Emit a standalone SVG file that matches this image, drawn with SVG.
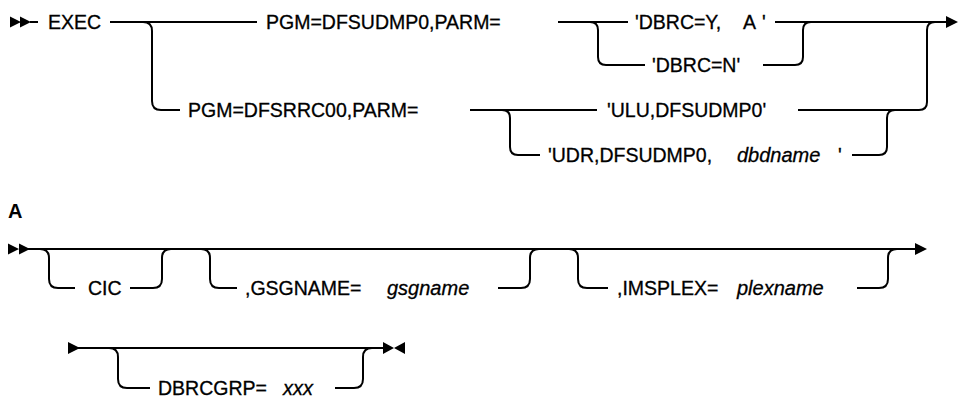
<svg xmlns="http://www.w3.org/2000/svg" width="960" height="399" viewBox="0 0 960 399">
<style>
.t{font-family:"Liberation Sans",Arial,sans-serif;font-size:19.5px;fill:#000;stroke:#000;stroke-width:0.3}
.i{font-style:italic;font-size:20px}
.b{font-weight:bold;font-size:20px;stroke-width:0}
.l{fill:none;stroke:#000;stroke-width:2}
.h{fill:#000}
</style>
<rect width="960" height="399" fill="#fff"/>
<g id="connectors">
<path class="l" d="M30,22 H38 M110,22 H257 M558,22 H628 M775,22 H948"/>
<path class="l" d="M143,22 Q152,22 152,31 V101 Q152,110 161,110 H180"/>
<path class="l" d="M470,110 H597"/>
<path class="l" d="M590,22 Q598,22 598,30 V57 Q598,65 606,65 H645"/>
<path class="l" d="M763,65 H795 Q803,65 803,57 V30 Q803,22 811,22"/>
<path class="l" d="M502,110 Q510,110 510,118 V147 Q510,155 518,155 H540"/>
<path class="l" d="M798,110 H919 Q927,110 927,102 V30 Q927,22 935,22"/>
<path class="l" d="M852,155 H879 Q887,155 887,147 V118 Q887,110 895,110"/>
<path class="l" d="M28,249 H917"/>
<path class="l" d="M40,249 Q49,249 49,258 V279 Q49,288 58,288 H75 M130,288 H153 Q162,288 162,279 V258 Q162,249 171,249"/>
<path class="l" d="M201,249 Q210,249 210,258 V279 Q210,288 219,288 H237 M498,288 H521 Q530,288 530,279 V258 Q530,249 539,249"/>
<path class="l" d="M569,249 Q578,249 578,258 V279 Q578,288 587,288 H608 M857,288 H879 Q888,288 888,279 V258 Q888,249 897,249"/>
<path class="l" d="M78,348 H385"/>
<path class="l" d="M109,348 Q118,348 118,357 V379 Q118,388 127,388 H150 M335,388 H354 Q363,388 363,379 V357 Q363,348 372,348"/>
<path class="h" d="M10,16.5 L21,22 L10,27.5 Z M20,16.5 L31,22 L20,27.5 Z"/>
<path class="h" d="M946,16 L958,22 L946,28 Z"/>
<path class="h" d="M8,243.5 L19,249 L8,254.5 Z M19,243.5 L30,249 L19,254.5 Z"/>
<path class="h" d="M915,243 L927,249 L915,255 Z"/>
<path class="h" d="M68,342 L80,348 L68,354 Z"/>
<path class="h" d="M383,342 L394,348 L383,354 Z M405,342 L394,348 L405,354 Z"/>
</g>
<g id="n-exec"><text class="t" x="48" y="29">EXEC</text></g>
<g id="n-pgm1"><text class="t" x="266" y="29">PGM=DFSUDMP0,PARM=</text></g>
<g id="n-pgm2"><text class="t" x="188" y="117">PGM=DFSRRC00,PARM=</text></g>
<g id="n-dbrcy"><text class="t" x="635" y="29">'DBRC=Y,<tspan x="743">A</tspan><tspan x="762">'</tspan></text></g>
<g id="n-dbrcn"><text class="t" x="652" y="72">'DBRC=N'</text></g>
<g id="n-ulu"><text class="t" x="607" y="117">'ULU,DFSUDMP0'</text></g>
<g id="n-udr"><text class="t" x="548" y="162">'UDR,DFSUDMP0,<tspan class="i" x="737">dbdname</tspan><tspan x="838">'</tspan></text></g>
<g id="n-labelA"><text class="t b" x="8" y="218">A</text></g>
<g id="n-cic"><text class="t" x="88" y="295">CIC</text></g>
<g id="n-gsg"><text class="t" x="245" y="295">,GSGNAME=<tspan class="i" x="387">gsgname</tspan></text></g>
<g id="n-imsplex"><text class="t" x="617" y="295">,IMSPLEX=<tspan class="i" x="737">plexname</tspan></text></g>
<g id="n-dbrcgrp"><text class="t" x="158" y="395">DBRCGRP=<tspan class="i" x="283">xxx</tspan></text></g>
</svg>
